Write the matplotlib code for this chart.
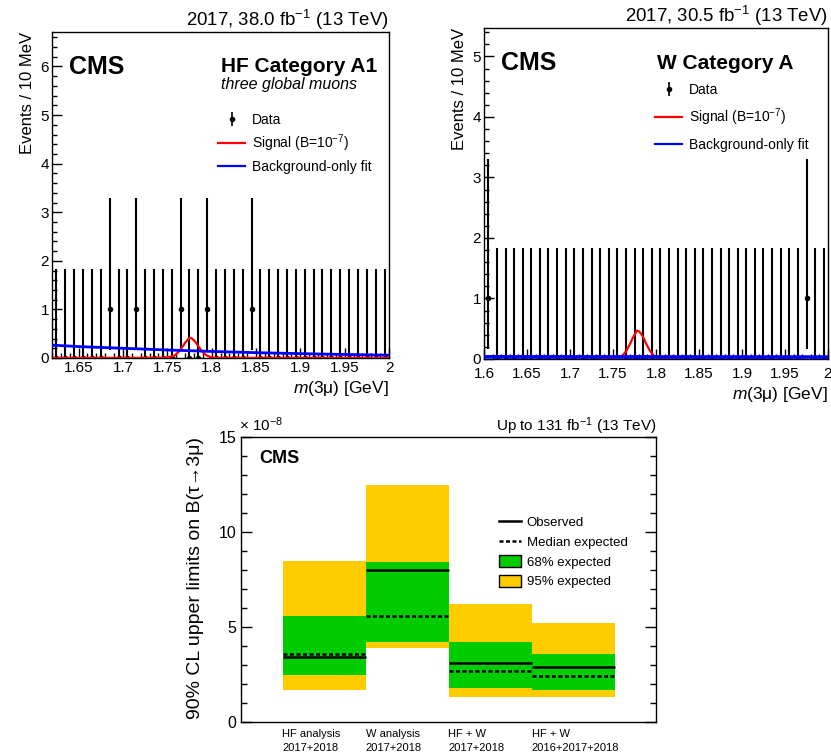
import matplotlib
matplotlib.use("Agg")
import matplotlib.pyplot as plt
from matplotlib.ticker import MultipleLocator
from matplotlib.lines import Line2D
from matplotlib.patches import Patch
import numpy as np

plt.rcParams['font.family'] = ['Liberation Sans', 'DejaVu Sans']
plt.rcParams['mathtext.fontset'] = 'custom'
plt.rcParams['mathtext.rm'] = 'Liberation Sans'
plt.rcParams['mathtext.it'] = 'Liberation Sans:italic'
plt.rcParams['mathtext.bf'] = 'Liberation Sans:bold'
plt.rcParams['axes.linewidth'] = 1.0

# --- HF category A1 (10 MeV bins, 1.62-2.00 GeV)
hf_edges = np.round(np.arange(1.62, 2.0001, 0.01), 3)
hf_counts = [0, 0, 0, 0, 0, 0, 1, 0, 0, 1, 0, 0, 0, 0, 1, 0, 0, 1, 0,
             0, 0, 0, 1, 0, 0, 0, 0, 0, 0, 0, 0, 0, 0, 0, 0, 0, 0, 0]
hf_bkg_x = [1.62, 1.65, 1.70, 1.75, 1.80, 1.85, 1.90, 1.95, 2.00]
hf_bkg_y = [0.265, 0.235, 0.20, 0.165, 0.135, 0.11, 0.09, 0.072, 0.058]
hf_sig_x = [1.62, 1.745, 1.75, 1.7575, 1.76, 1.7625, 1.765, 1.7675, 1.77, 1.7725,
            1.775, 1.7775, 1.78, 1.7825, 1.785, 1.7875, 1.79, 1.7925, 1.795,
            1.80, 1.805, 2.0]
hf_sig_y = [0.0, 0.003, 0.013, 0.046, 0.08, 0.12, 0.18, 0.24, 0.31, 0.365,
            0.42, 0.405, 0.365, 0.31, 0.24, 0.18, 0.12, 0.08, 0.046,
            0.013, 0.003, 0.0]

# --- W category A (10 MeV bins, 1.60-2.00 GeV)
w_edges = np.round(np.arange(1.60, 2.0001, 0.01), 3)
w_counts = [1, 0, 0, 0, 0, 0, 0, 0, 0, 0, 0, 0, 0, 0, 0, 0, 0, 0, 0, 0,
            0, 0, 0, 0, 0, 0, 0, 0, 0, 0, 0, 0, 0, 0, 0, 0, 0, 1, 0, 0]
w_bkg_x = [1.60, 2.00]
w_bkg_y = [0.036, 0.032]
w_sig_x = [1.73, 1.748, 1.753, 1.7605, 1.763, 1.7655, 1.768, 1.7705, 1.773, 1.7755,
           1.778, 1.7805, 1.783, 1.7855, 1.788, 1.7905, 1.793, 1.7955, 1.798,
           1.803, 1.808, 1.83]
w_sig_y = [0.0, 0.003, 0.015, 0.05, 0.09, 0.135, 0.2, 0.27, 0.35, 0.41,
           0.47, 0.455, 0.41, 0.35, 0.27, 0.2, 0.135, 0.09, 0.05,
           0.015, 0.003, 0.0]

# Poisson (Garwood) 68% intervals
garwood = {0: (0.0, 1.841), 1: (0.173, 3.300)}

# --- combined limits (units of 1e-8)
lim_labels = ["HF analysis\n2017+2018", "W analysis\n2017+2018",
              "HF + W\n2017+2018", "HF + W\n2016+2017+2018"]
lim_obs = [3.4, 8.0, 3.1, 2.9]
lim_exp = [3.6, 5.6, 2.7, 2.4]
lim_1s_lo = [2.5, 4.2, 1.8, 1.7]
lim_1s_hi = [5.6, 8.4, 4.2, 3.6]
lim_2s_lo = [1.7, 3.9, 1.3, 1.3]
lim_2s_hi = [8.5, 12.5, 6.2, 5.2]

W, H = 831, 756
fig = plt.figure(figsize=(W / 100, H / 100), dpi=100)


def px_axes(l, t, r, b):
    return fig.add_axes([l / W, 1 - b / H, (r - l) / W, (b - t) / H])


def mass_panel(ax, edges, counts, bkg_x, bkg_y, sig_x, sig_y, xlim, ylim,
               lumi, cat, sub, leg_anchor, leg_spacing, bkg_lw, xpad):
    centers = 0.5 * (edges[:-1] + edges[1:])
    counts = np.array(counts)
    lo = np.array([c - garwood[c][0] for c in counts])
    hi = np.array([garwood[c][1] - c for c in counts])
    ax.errorbar(centers, counts, yerr=[lo, hi], fmt='o', color='black',
                ms=3, elinewidth=1.5, capsize=0, zorder=2)
    ax.plot(sig_x, sig_y, color='red', lw=1.6, zorder=3)
    ax.plot(bkg_x, bkg_y, color='blue', lw=bkg_lw, zorder=4)
    ax.set_xlim(*xlim)
    ax.set_ylim(*ylim)
    ax.xaxis.set_major_locator(MultipleLocator(0.05))
    ax.xaxis.set_minor_locator(MultipleLocator(0.01))
    ax.yaxis.set_major_locator(MultipleLocator(1))
    ax.yaxis.set_minor_locator(MultipleLocator(0.2))
    ax.xaxis.set_major_formatter(plt.FuncFormatter(lambda v, p: f"{v:g}"))
    ax.tick_params(which='both', direction='in', labelsize=11)
    ax.tick_params(axis='x', pad=xpad)
    ax.tick_params(axis='y', pad=2)
    ax.tick_params(which='major', length=7, width=1)
    ax.tick_params(which='minor', length=3.5, width=1)
    ax.set_ylabel("Events / 10 MeV", fontsize=12, loc='top', labelpad=4)
    ax.set_xlabel("$m$(3μ) [GeV]", fontsize=12.5, loc='right', labelpad=3)
    ax.set_title(lumi, loc='right', fontsize=13.4, pad=4)
    ax.text(0.05, 0.893, "CMS", transform=ax.transAxes, fontsize=18,
            fontweight='bold', va='center', ha='left')
    ax.text(0.502, 0.893, cat, transform=ax.transAxes, fontsize=15,
            fontweight='bold', va='center', ha='left')
    if sub:
        ax.text(0.502, 0.838, sub, transform=ax.transAxes, fontsize=11.5,
                style='italic', va='center', ha='left')
    dummy = ax.errorbar([], [], yerr=[], fmt='o', color='black', ms=3,
                        elinewidth=1.2, capsize=2)
    handles = [dummy,
               Line2D([], [], color='red', lw=1.6),
               Line2D([], [], color='blue', lw=1.6)]
    labels = ["Data", "Signal (B=10$^{-7}$)", "Background-only fit"]
    ax.legend(handles, labels, loc='upper left', bbox_to_anchor=leg_anchor,
              frameon=False, fontsize=10, handlelength=1.95,
              handletextpad=0.5, labelspacing=leg_spacing, borderpad=0,
              borderaxespad=0)


ax1 = px_axes(52, 32, 389, 358)
mass_panel(ax1, hf_edges, hf_counts, hf_bkg_x, hf_bkg_y, hf_sig_x, hf_sig_y,
           (1.62, 2.0), (0, 6.71), "2017, 38.0 fb$^{-1}$ (13 TeV)",
           "HF Category A1", "three global muons", (0.493, 0.752), 0.42,
           2.0, 2)

ax2 = px_axes(484, 28, 828, 359)
mass_panel(ax2, w_edges, w_counts, w_bkg_x, w_bkg_y, w_sig_x, w_sig_y,
           (1.6, 2.0), (0, 5.47), "2017, 30.5 fb$^{-1}$ (13 TeV)",
           "W Category A", None, (0.497, 0.835), 0.72, 2.6, 5.5)

# --- limits summary
ax3 = px_axes(241, 437, 656, 722)
pos = np.arange(1, len(lim_obs) + 1)
ax3.bar(pos, np.array(lim_2s_hi) - np.array(lim_2s_lo), bottom=lim_2s_lo,
        width=1.0, color='#ffcc00', edgecolor='none', zorder=1)
ax3.bar(pos, np.array(lim_1s_hi) - np.array(lim_1s_lo), bottom=lim_1s_lo,
        width=1.0, color='#00cc00', edgecolor='none', zorder=2)
ax3.hlines(lim_obs, pos - 0.5, pos + 0.5, colors='black', lw=1.8, zorder=3)
ax3.hlines(lim_exp, pos - 0.5, pos + 0.5, colors='black', lw=1.8,
           linestyles=(0, (1.6, 1.0)), zorder=3)
ax3.set_xlim(0, 5)
ax3.set_ylim(0, 15)
ax3.set_xticks(pos - 0.5)
ax3.set_xticklabels(lim_labels, ha='left', fontsize=8, linespacing=1.5)
ax3.tick_params(axis='x', length=0, pad=5)
ax3.yaxis.set_major_locator(MultipleLocator(5))
ax3.yaxis.set_minor_locator(MultipleLocator(1))
ax3.tick_params(axis='y', which='both', direction='in', right=True,
                labelsize=11.5, width=1)
ax3.tick_params(axis='y', which='major', length=8)
ax3.tick_params(axis='y', which='minor', length=4)
ax3.set_ylabel("90% CL upper limits on B(τ→3μ)", fontsize=14, loc='top',
               labelpad=10)
ax3.set_title("Up to 131 fb$^{-1}$ (13 TeV)", loc='right', fontsize=11, pad=4)
ax3.text(-0.005, 1.01, "× 10$^{-8}$", transform=ax3.transAxes, fontsize=11,
         ha='left', va='bottom')
ax3.text(0.043, 0.926, "CMS", transform=ax3.transAxes, fontsize=13,
         fontweight='bold', va='center', ha='left')
leg_handles = [Line2D([], [], color='black', lw=1.8),
               Line2D([], [], color='black', lw=1.8, ls=(0, (1.6, 1.0))),
               Patch(facecolor='#00cc00', edgecolor='black', lw=1.0),
               Patch(facecolor='#ffcc00', edgecolor='black', lw=1.0)]
leg_labels = ["Observed", "Median expected", "68% expected", "95% expected"]
ax3.legend(leg_handles, leg_labels, loc='upper left',
           bbox_to_anchor=(0.622, 0.723), frameon=False, fontsize=9.5,
           handlelength=1.65, handleheight=1.0, handletextpad=0.45,
           labelspacing=0.47, borderpad=0, borderaxespad=0)

fig.savefig("out.png", dpi=100)
